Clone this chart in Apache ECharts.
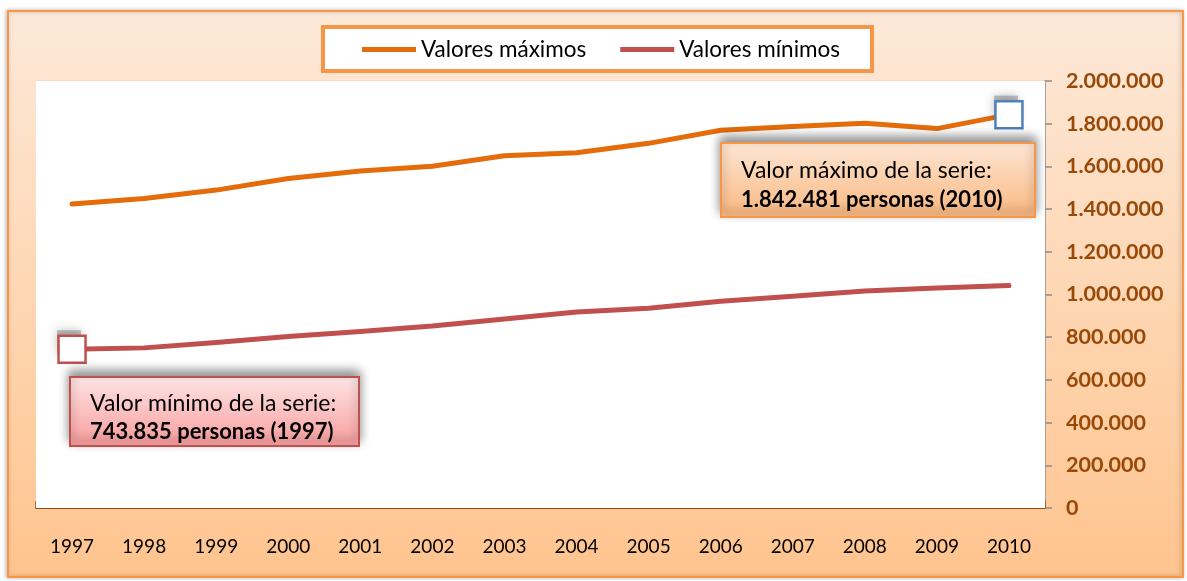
<!DOCTYPE html>
<html>
<head>
<meta charset="utf-8">
<script src="https://cdn.jsdelivr.net/npm/echarts@6/dist/echarts.min.js"></script>
<style>
html,body{margin:0;padding:0;background:#fff;}
#c{width:1187px;height:581px;}
</style>
</head>
<body>
<div id="c"></div>
<script>
const years = ['1997','1998','1999','2000','2001','2002','2003','2004','2005','2006','2007','2008','2009','2010'];
const maxValues = [1423500,1450000,1489000,1543000,1578000,1601000,1650000,1664000,1708000,1769000,1787000,1802000,1777000,1842481];
const minValues = [743835,750000,775000,803000,827000,852000,885000,918000,936000,968000,992000,1016000,1031000,1042000];
const yTicks = [0,200000,400000,600000,800000,1000000,1200000,1400000,1600000,1800000,2000000];
const seriesNames = ['Valores máximos','Valores mínimos'];

function fmt(n){return String(Math.round(n)).replace(/\B(?=(\d{3})+(?!\d))/g,'.');}

const maxTop = Math.max.apply(null,maxValues);
const maxIdx = maxValues.indexOf(maxTop);
const minLow = Math.min.apply(null,minValues);
const minIdx = minValues.indexOf(minLow);

const FONT = 'Lato';
const chart = echarts.init(document.getElementById('c'));

function markerPoints(cat,val,border){
  return {
    symbol:'rect', symbolSize:27, z:5, label:{show:false},
    data:[
      {coord:[cat,val],symbolOffset:[-3,-7],symbolSize:24,
        itemStyle:{color:'rgba(90,90,90,0.35)',borderWidth:0,shadowBlur:10,shadowColor:'rgba(0,0,0,0.7)'}},
      {coord:[cat,val],
        itemStyle:{color:'#ffffff',borderColor:border,borderWidth:2.5,shadowBlur:0}}
    ]
  };
}

chart.setOption({
  animation:false,
  textStyle:{fontFamily:FONT},
  grid:{left:36,right:142,top:81,bottom:73,show:true,backgroundColor:'#ffffff',borderWidth:0,z:1},
  legend:{
    data:seriesNames,
    left:357, top:33,
    itemWidth:54, itemHeight:14, itemGap:34,
    icon:'path://M0,0 L54,0 L54,5 L0,5 Z',
    textStyle:{fontFamily:FONT,fontSize:22.5,color:'#000'},
    z:20
  },
  xAxis:{
    type:'category', data:years, boundaryGap:true,
    axisLine:{lineStyle:{color:'#9B4E12',width:2}},
    axisTick:{show:true,inside:true,length:7,lineStyle:{color:'#9B4E12',width:1.5}},
    axisLabel:{color:'#000',fontSize:19,margin:29,fontFamily:FONT},
    splitLine:{show:false}
  },
  yAxis:{
    type:'value', position:'right', min:0, max:2000000, interval:200000,
    axisLine:{show:true,lineStyle:{color:'#8C8C8C',width:1.5}},
    axisTick:{show:true,inside:false,length:7,lineStyle:{color:'#8C8C8C',width:1.5}},
    axisLabel:{color:'#984807',fontSize:21.5,fontWeight:'bold',margin:21,fontFamily:FONT,
      formatter:function(v){return yTicks.indexOf(v)>=0?fmt(v):'';}},
    splitLine:{show:true,lineStyle:{color:'#FCD9BC',width:2}}
  },
  series:[
    {
      name:seriesNames[0], type:'line', data:maxValues, symbol:'none', smooth:false,
      lineStyle:{color:'#E46C0A',width:5,cap:'round',join:'round'},
      itemStyle:{color:'#E46C0A'}, z:3,
      markPoint:markerPoints(years[maxIdx],maxTop,'#4F81BD')
    },
    {
      name:seriesNames[1], type:'line', data:minValues, symbol:'none', smooth:false,
      lineStyle:{color:'#C0504D',width:5,cap:'round',join:'round'},
      itemStyle:{color:'#C0504D'}, z:3,
      markPoint:markerPoints(years[minIdx],minLow,'#C0504D')
    }
  ],
  graphic:[
    {type:'rect', z:-100, silent:true,
      shape:{x:8,y:11,width:1175,height:566},
      style:{fill:new echarts.graphic.LinearGradient(0,0,0,1,[{offset:0,color:'#FDE9D9'},{offset:1,color:'#FFC48E'}]),
        stroke:'#F79646',lineWidth:2,shadowBlur:4,shadowColor:'rgba(0,0,0,0.25)',shadowOffsetX:-1}},
    {type:'rect', z:10, silent:true,
      shape:{x:323,y:27,width:549,height:44},
      style:{fill:'#ffffff',stroke:'#F79646',lineWidth:4}},
    {type:'group', z:30, silent:true, children:[
      {type:'rect', z:30,
        shape:{x:721,y:143,width:314,height:74},
        style:{fill:new echarts.graphic.LinearGradient(0,0,0,1,[{offset:0,color:'#FDE6D4'},{offset:1,color:'#FAB880'}]),
          stroke:'#F79646',lineWidth:2,shadowBlur:10,shadowColor:'rgba(0,0,0,0.45)',shadowOffsetY:-5}},
      {type:'text', z:31, x:741, y:156,
        style:{text:'Valor máximo de la serie:\n{b|'+fmt(maxTop)+' personas ('+years[maxIdx]+')}',
          fontFamily:FONT,fontSize:23,fill:'#000',lineHeight:29,
          rich:{b:{fontFamily:FONT,fontSize:22,fontWeight:'bold',fill:'#000',lineHeight:29}}}}
    ]},
    {type:'group', z:30, silent:true, children:[
      {type:'rect', z:30,
        shape:{x:70,y:377,width:289,height:69},
        style:{fill:new echarts.graphic.LinearGradient(0,0,0,1,[{offset:0,color:'#FEE5E5'},{offset:1,color:'#F89C9C'}]),
          stroke:'#C0504D',lineWidth:2,shadowBlur:10,shadowColor:'rgba(0,0,0,0.45)',shadowOffsetY:-5}},
      {type:'text', z:31, x:90, y:390,
        style:{text:'Valor mínimo de la serie:\n{b|'+fmt(minLow)+' personas ('+years[minIdx]+')}',
          fontFamily:FONT,fontSize:23,fill:'#000',lineHeight:28,
          rich:{b:{fontFamily:FONT,fontSize:22,fontWeight:'bold',fill:'#000',lineHeight:28}}}}
    ]}
  ]
});
</script>
</body>
</html>
